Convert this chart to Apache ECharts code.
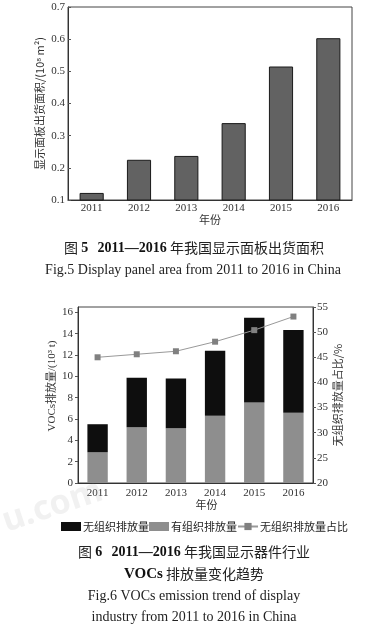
<!DOCTYPE html>
<html>
<head>
<meta charset="utf-8">
<script src="https://cdn.jsdelivr.net/npm/echarts@6/dist/echarts.min.js"></script>
<style>
html,body{margin:0;padding:0;background:#fff;}
#main{width:376px;height:630px;}
</style>
</head>
<body>
<div id="main"></div>
<script>
// ---- data ----
const years = ['2011', '2012', '2013', '2014', '2015', '2016'];
const panelArea = [0.122, 0.225, 0.237, 0.339, 0.515, 0.603];      // 10^8 m2
const organized = [2.88, 5.23, 5.14, 6.30, 7.55, 6.58];            // 10^3 t (有组织)
const fugitive = [2.63, 4.64, 4.66, 6.10, 7.95, 7.77];             // 10^3 t (无组织)
const fugitiveShare = [45.0, 45.6, 46.2, 48.1, 50.4, 53.1];        // %

const serif = "'Liberation Serif','Noto Sans CJK SC',serif";
const cjk = "'Noto Sans CJK SC','Liberation Serif',serif";
const axisLine = { lineStyle: { color: '#333', width: 1 } };
const lbl = { color: '#333', fontSize: 11, fontFamily: serif };

const chart = echarts.init(document.getElementById('main'), null, { renderer: 'canvas' });

const option = {
  animation: false,
  backgroundColor: '#fff',
  grid: [
    { left: 68, top: 7, width: 284, height: 193, show: true, borderColor: '#444', borderWidth: 1, backgroundColor: 'transparent' },
    { left: 78, top: 307, width: 235, height: 176, show: true, borderColor: '#444', borderWidth: 1, backgroundColor: 'transparent' }
  ],
  xAxis: [
    {
      gridIndex: 0, type: 'category', data: years,
      name: '年份', nameLocation: 'middle', nameGap: 14, nameMoveOverlap: false,
      nameTextStyle: { color: '#333', fontSize: 11, fontFamily: cjk },
      axisLine: axisLine,
      axisTick: { inside: true, length: 4, lineStyle: { color: '#555' } },
      axisLabel: Object.assign({ margin: 3 }, lbl)
    },
    {
      gridIndex: 1, type: 'category', data: years,
      name: '年份', nameLocation: 'middle', nameGap: 16, nameMoveOverlap: false,
      nameTextStyle: { color: '#333', fontSize: 11, fontFamily: cjk, padding: [0, 0, 0, 22] },
      axisLine: axisLine,
      axisTick: { inside: true, length: 4, lineStyle: { color: '#555' } },
      axisLabel: Object.assign({ margin: 5 }, lbl)
    }
  ],
  yAxis: [
    {
      gridIndex: 0, type: 'value', min: 0.1, max: 0.7, interval: 0.1,
      name: '显示面板出货面积/(10⁸ m²)', nameLocation: 'middle', nameGap: 23, nameRotate: 90, nameMoveOverlap: false,
      nameTextStyle: { color: '#333', fontSize: 11, fontFamily: cjk },
      axisLine: Object.assign({ show: true }, axisLine),
      axisTick: { show: true, inside: true, length: 3, lineStyle: { color: '#555' } },
      axisLabel: Object.assign({ margin: 3, formatter: v => v.toFixed(1) }, lbl),
      splitLine: { show: false }
    },
    {
      gridIndex: 1, type: 'value', min: 0, max: 16.5, interval: 2,
      name: 'VOCs排放量/(10³ t)', nameLocation: 'middle', nameGap: 20, nameRotate: 90, nameMoveOverlap: false,
      nameTextStyle: { color: '#333', fontSize: 11, fontFamily: serif, padding: [0, 0, 0, 18] },
      axisLine: Object.assign({ show: true }, axisLine),
      axisTick: { show: true, inside: false, length: 3, lineStyle: { color: '#555' } },
      axisLabel: Object.assign({ margin: 5, showMaxLabel: false }, lbl),
      splitLine: { show: false }
    },
    {
      gridIndex: 1, type: 'value', position: 'right', min: 20, max: 55, interval: 5,
      name: '无组织排放量占比/%', nameLocation: 'middle', nameGap: 19, nameRotate: 90, nameMoveOverlap: false,
      nameTextStyle: { color: '#333', fontSize: 11, fontFamily: cjk },
      axisLine: Object.assign({ show: true }, axisLine),
      axisTick: { show: true, inside: false, length: 3, lineStyle: { color: '#555' } },
      axisLabel: Object.assign({ margin: 4 }, lbl),
      splitLine: { show: false }
    }
  ],
  legend: {
    left: 56, top: 516, itemWidth: 20, itemHeight: 9, itemGap: 0,
    textStyle: { color: '#222', fontSize: 11, fontFamily: cjk, padding: [0, 0, 0, -3] },
    data: [
      { name: '无组织排放量', icon: 'rect' },
      { name: '有组织排放量', icon: 'rect' },
      { name: '无组织排放量占比' }
    ]
  },
  series: [
    {
      name: '显示面板出货面积', type: 'bar', xAxisIndex: 0, yAxisIndex: 0,
      data: panelArea, barWidth: '51%',
      itemStyle: { color: '#626262', borderColor: '#1a1a1a', borderWidth: 1 }
    },
    {
      name: '有组织排放量', type: 'bar', xAxisIndex: 1, yAxisIndex: 1, stack: 'voc',
      data: organized, barWidth: '52%',
      itemStyle: { color: '#8e8e8e' }
    },
    {
      name: '无组织排放量', type: 'bar', xAxisIndex: 1, yAxisIndex: 1, stack: 'voc',
      data: fugitive, barWidth: '52%',
      itemStyle: { color: '#0e0e0e' }
    },
    {
      name: '无组织排放量占比', type: 'line', xAxisIndex: 1, yAxisIndex: 2,
      data: fugitiveShare, symbol: 'rect', symbolSize: 6,
      itemStyle: { color: '#808080' },
      lineStyle: { color: '#999', width: 1 }
    }
  ],
  graphic: [
    {
      type: 'text', left: -2, top: 474, rotation: 0.32, z: 100, silent: true,
      style: { text: 'u.com', fill: 'rgba(190,190,190,0.22)', fontSize: 34, fontFamily: "'Noto Sans',sans-serif", fontWeight: 'bold' }
    },
    {
      type: 'text', x: 194, y: 248,
      style: {
        text: '{a|图 }{b|5}{a|   }{b|2011—2016}{a| 年我国显示面板出货面积}',
        align: 'center', verticalAlign: 'middle',
        rich: {
          a: { fontSize: 14, fontFamily: cjk, fill: '#222' },
          b: { fontSize: 14, fontFamily: serif, fontWeight: 'bold', fill: '#111' }
        }
      }
    },
    {
      type: 'text', x: 193, y: 270,
      style: { text: 'Fig.5 Display panel area from 2011 to 2016 in China', align: 'center', verticalAlign: 'middle', fontSize: 14, fontFamily: serif, fill: '#222' }
    },
    {
      type: 'text', x: 194, y: 552,
      style: {
        text: '{a|图 }{b|6}{a|   }{b|2011—2016}{a| 年我国显示器件行业}',
        align: 'center', verticalAlign: 'middle',
        rich: {
          a: { fontSize: 14, fontFamily: cjk, fill: '#222' },
          b: { fontSize: 14, fontFamily: serif, fontWeight: 'bold', fill: '#111' }
        }
      }
    },
    {
      type: 'text', x: 194, y: 574,
      style: {
        text: '{b|VOCs}{a| 排放量变化趋势}',
        align: 'center', verticalAlign: 'middle',
        rich: {
          a: { fontSize: 14, fontFamily: cjk, fill: '#222' },
          b: { fontSize: 15, fontFamily: serif, fontWeight: 'bold', fill: '#111' }
        }
      }
    },
    {
      type: 'text', x: 194, y: 596,
      style: { text: 'Fig.6 VOCs emission trend of display', align: 'center', verticalAlign: 'middle', fontSize: 14, fontFamily: serif, fill: '#222' }
    },
    {
      type: 'text', x: 194, y: 617,
      style: { text: 'industry from 2011 to 2016 in China', align: 'center', verticalAlign: 'middle', fontSize: 14, fontFamily: serif, fill: '#222' }
    }
  ]
};
chart.setOption(option);
</script>
</body>
</html>
